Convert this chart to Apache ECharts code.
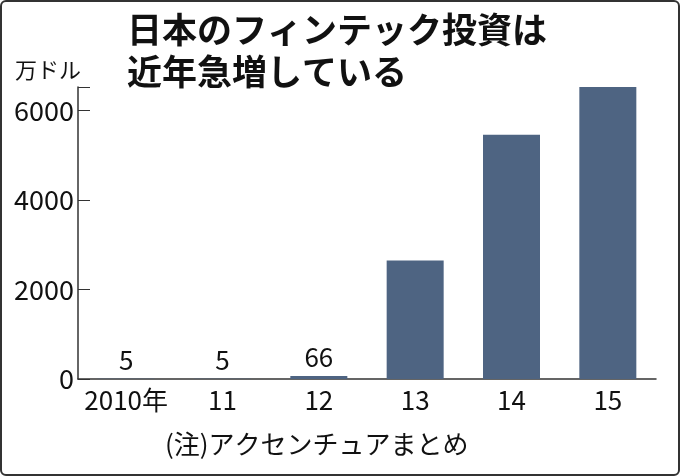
<html>
<head>
<meta charset="utf-8">
<script src="https://cdn.jsdelivr.net/npm/echarts@6/dist/echarts.min.js"></script>
<style>body{margin:0;background:#fff}#c{width:680px;height:476px;box-sizing:border-box;border:2px solid #333;border-radius:6px}</style>
</head>
<body>
<div id="c"></div>
<script>
var years = ['2010年', '11', '12', '13', '14', '15'];
var invest = [5, 5, 66, 2650, 5460, 6530];
var labels = ['5', '5', '66', '', '', ''];
var yTicks = [0, 2000, 4000, 6000];

var chart = echarts.init(document.getElementById('c'));
var font = '"Noto Sans CJK JP", "Liberation Sans", sans-serif';
chart.setOption({
    animation: false,
    grid: { left: 76, right: 22, top: 85, bottom: 95 },
    title: [
        { text: '日本のフィンテック投資は\n近年急増している', left: 120, top: 2,
          textStyle: { fontFamily: font, fontSize: 35, fontWeight: 'bold', color: '#111', lineHeight: 42 } },
        { text: '万ドル', left: 8, top: 52, textStyle: { fontFamily: font, fontSize: 22, fontWeight: 'normal', color: '#111' } },
        { text: '(注)アクセンチュアまとめ', left: 158, top: 424, textStyle: { fontFamily: font, fontSize: 26, fontWeight: 'normal', color: '#111' } }
    ],
    xAxis: {
        type: 'category', data: years,
        axisLine: { lineStyle: { color: '#333', width: 1.5 } },
        axisTick: { show: false },
        axisLabel: { interval: 0, color: '#111', fontSize: 26, fontFamily: font, margin: 8 }
    },
    yAxis: {
        type: 'value', min: 0, max: 6530, interval: 2000,
        axisLine: { show: true, lineStyle: { color: '#333', width: 1.5 } },
        axisTick: { show: true, inside: true, length: 12, lineStyle: { color: '#333' } },
        splitLine: { show: false },
        axisLabel: { color: '#111', fontSize: 27, fontFamily: font, margin: 4,
            formatter: function (v) { return yTicks.indexOf(v) >= 0 ? String(v) : ''; } }
    },
    series: [{
        type: 'bar', data: invest, barWidth: 57,
        itemStyle: { color: '#4e6482' },
        label: { show: true, position: 'top', distance: 6, color: '#111', fontSize: 26, fontFamily: font,
            formatter: function (p) { return labels[p.dataIndex]; } }
    }]
});
</script>
</body>
</html>
